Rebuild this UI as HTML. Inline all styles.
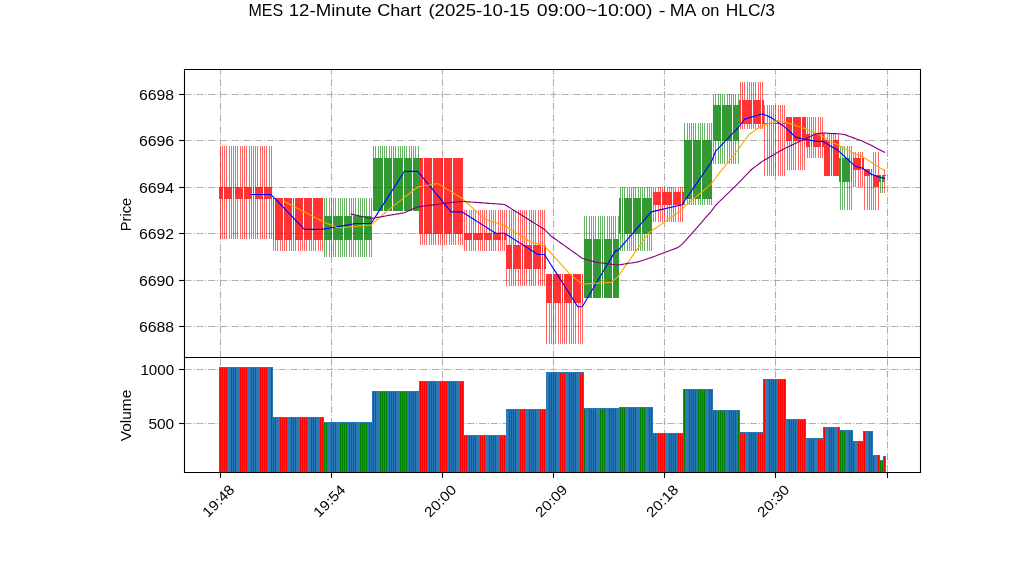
<!DOCTYPE html>
<html><head><meta charset="utf-8"><title>chart</title>
<style>html,body{margin:0;padding:0;background:#fff}body{width:1022px;height:575px;overflow:hidden;font-family:"Liberation Sans",sans-serif}</style></head>
<body>
<svg width="1022" height="575" viewBox="0 0 1022 575" style="display:block">
<rect width="1022" height="575" fill="#fff"/>
<g stroke="#b0b0b0" stroke-width="1.1" stroke-dasharray="7.11 1.78 1.11 1.78" fill="none">
<path d="M184.5 326.5H920.5"/>
<path d="M184.5 280.5H920.5"/>
<path d="M184.5 233.5H920.5"/>
<path d="M184.5 187.5H920.5"/>
<path d="M184.5 140.5H920.5"/>
<path d="M184.5 94.5H920.5"/>
<path d="M184.5 369.5H920.5"/>
<path d="M184.5 423.5H920.5"/>
<path d="M220.5 357.3V69.5"/>
<path d="M220.5 472.0V357.5"/>
<path d="M331.5 357.3V69.5"/>
<path d="M331.5 472.0V357.5"/>
<path d="M442.5 357.3V69.5"/>
<path d="M442.5 472.0V357.5"/>
<path d="M553.5 357.3V69.5"/>
<path d="M553.5 472.0V357.5"/>
<path d="M664.5 357.3V69.5"/>
<path d="M664.5 472.0V357.5"/>
<path d="M775.5 357.3V69.5"/>
<path d="M775.5 472.0V357.5"/>
<path d="M887.5 357.3V69.5"/>
<path d="M887.5 472.0V357.5"/>
</g>
<path d="M220 146h1V187h-1zM220 199h1V239h-1zM222 146h1V187h-1zM222 199h1V239h-1zM224 146h1V187h-1zM224 199h1V239h-1zM226 146h1V187h-1zM226 199h1V239h-1zM229 146h1V187h-1zM229 199h1V239h-1zM231 146h1V187h-1zM231 199h1V239h-1zM233 146h1V187h-1zM233 199h1V239h-1zM235 146h1V187h-1zM235 199h1V239h-1zM237 146h1V187h-1zM237 199h1V239h-1zM240 146h1V187h-1zM240 199h1V239h-1zM242 146h1V187h-1zM242 199h1V239h-1zM244 146h1V187h-1zM244 199h1V239h-1zM246 146h1V187h-1zM246 199h1V239h-1zM249 146h1V187h-1zM249 199h1V239h-1zM251 146h1V187h-1zM251 199h1V239h-1zM253 146h1V187h-1zM253 199h1V239h-1zM255 146h1V187h-1zM255 199h1V239h-1zM257 146h1V187h-1zM257 199h1V239h-1zM260 146h1V187h-1zM260 199h1V239h-1zM262 146h1V187h-1zM262 199h1V239h-1zM264 146h1V187h-1zM264 199h1V239h-1zM266 146h1V187h-1zM266 199h1V239h-1zM269 146h1V187h-1zM269 199h1V239h-1zM271 146h1V187h-1zM271 199h1V239h-1zM273 240h1V251h-1zM275 240h1V251h-1zM277 240h1V251h-1zM280 240h1V251h-1zM282 240h1V251h-1zM284 240h1V251h-1zM286 240h1V251h-1zM289 240h1V251h-1zM291 240h1V251h-1zM293 240h1V251h-1zM295 240h1V251h-1zM298 240h1V251h-1zM300 240h1V251h-1zM302 240h1V251h-1zM304 240h1V251h-1zM306 240h1V251h-1zM309 240h1V251h-1zM311 240h1V251h-1zM313 240h1V251h-1zM315 240h1V251h-1zM318 240h1V251h-1zM320 240h1V251h-1zM322 240h1V251h-1zM420 234h1V245h-1zM422 234h1V245h-1zM424 234h1V245h-1zM426 234h1V245h-1zM429 234h1V245h-1zM431 234h1V245h-1zM433 234h1V245h-1zM435 234h1V245h-1zM438 234h1V245h-1zM440 234h1V245h-1zM442 234h1V245h-1zM444 234h1V245h-1zM446 234h1V245h-1zM449 234h1V245h-1zM451 234h1V245h-1zM453 234h1V245h-1zM455 234h1V245h-1zM458 234h1V245h-1zM460 234h1V245h-1zM462 234h1V245h-1zM464 210h1V233h-1zM464 240h1V251h-1zM466 210h1V233h-1zM466 240h1V251h-1zM469 210h1V233h-1zM469 240h1V251h-1zM471 210h1V233h-1zM471 240h1V251h-1zM473 210h1V233h-1zM473 240h1V251h-1zM475 210h1V233h-1zM475 240h1V251h-1zM478 210h1V233h-1zM478 240h1V251h-1zM480 210h1V233h-1zM480 240h1V251h-1zM482 210h1V233h-1zM482 240h1V251h-1zM484 210h1V233h-1zM484 240h1V251h-1zM486 210h1V233h-1zM486 240h1V251h-1zM489 210h1V233h-1zM489 240h1V251h-1zM491 210h1V233h-1zM491 240h1V251h-1zM493 210h1V233h-1zM493 240h1V251h-1zM495 210h1V233h-1zM495 240h1V251h-1zM498 210h1V233h-1zM498 240h1V251h-1zM500 210h1V233h-1zM500 240h1V251h-1zM502 210h1V233h-1zM502 240h1V251h-1zM504 210h1V233h-1zM504 240h1V251h-1zM506 210h1V245h-1zM506 269h1V286h-1zM509 210h1V245h-1zM509 269h1V286h-1zM511 210h1V245h-1zM511 269h1V286h-1zM513 210h1V245h-1zM513 269h1V286h-1zM515 210h1V245h-1zM515 269h1V286h-1zM518 210h1V245h-1zM518 269h1V286h-1zM520 210h1V245h-1zM520 269h1V286h-1zM522 210h1V245h-1zM522 269h1V286h-1zM524 210h1V245h-1zM524 269h1V286h-1zM526 210h1V245h-1zM526 269h1V286h-1zM529 210h1V245h-1zM529 269h1V286h-1zM531 210h1V245h-1zM531 269h1V286h-1zM533 210h1V245h-1zM533 269h1V286h-1zM535 210h1V245h-1zM535 269h1V286h-1zM538 210h1V245h-1zM538 269h1V286h-1zM540 210h1V245h-1zM540 269h1V286h-1zM542 210h1V245h-1zM542 269h1V286h-1zM544 210h1V245h-1zM544 269h1V286h-1zM546 303h1V344h-1zM549 303h1V344h-1zM551 303h1V344h-1zM553 303h1V344h-1zM555 303h1V344h-1zM558 303h1V344h-1zM560 303h1V344h-1zM562 303h1V344h-1zM564 303h1V344h-1zM566 303h1V344h-1zM569 303h1V344h-1zM571 303h1V344h-1zM573 303h1V344h-1zM575 303h1V344h-1zM578 303h1V344h-1zM580 303h1V344h-1zM582 303h1V344h-1zM653 187h1V192h-1zM653 205h1V222h-1zM655 187h1V192h-1zM655 205h1V222h-1zM658 187h1V192h-1zM658 205h1V222h-1zM660 187h1V192h-1zM660 205h1V222h-1zM662 187h1V192h-1zM662 205h1V222h-1zM664 187h1V192h-1zM664 205h1V222h-1zM667 187h1V192h-1zM667 205h1V222h-1zM669 187h1V192h-1zM669 205h1V222h-1zM671 187h1V192h-1zM671 205h1V222h-1zM673 187h1V192h-1zM673 205h1V222h-1zM675 187h1V192h-1zM675 205h1V222h-1zM678 187h1V192h-1zM678 205h1V222h-1zM680 187h1V192h-1zM680 205h1V222h-1zM682 187h1V192h-1zM682 205h1V222h-1zM740 82h1V100h-1zM740 124h1V129h-1zM742 82h1V100h-1zM742 124h1V129h-1zM744 82h1V100h-1zM744 124h1V129h-1zM747 82h1V100h-1zM747 124h1V129h-1zM749 82h1V100h-1zM749 124h1V129h-1zM751 82h1V100h-1zM751 124h1V129h-1zM753 82h1V100h-1zM753 124h1V129h-1zM755 82h1V100h-1zM755 124h1V129h-1zM758 82h1V100h-1zM758 124h1V129h-1zM760 82h1V100h-1zM760 124h1V129h-1zM762 82h1V100h-1zM762 124h1V129h-1zM764 105h1V123h-1zM764 124h1V176h-1zM767 105h1V123h-1zM767 124h1V176h-1zM769 105h1V123h-1zM769 124h1V176h-1zM771 105h1V123h-1zM771 124h1V176h-1zM773 105h1V123h-1zM773 124h1V176h-1zM775 105h1V123h-1zM775 124h1V176h-1zM778 105h1V123h-1zM778 124h1V176h-1zM780 105h1V123h-1zM780 124h1V176h-1zM782 105h1V123h-1zM782 124h1V176h-1zM784 105h1V123h-1zM784 124h1V176h-1zM787 141h1V170h-1zM789 141h1V170h-1zM791 141h1V170h-1zM793 141h1V170h-1zM795 141h1V170h-1zM798 141h1V170h-1zM800 141h1V170h-1zM802 141h1V170h-1zM804 141h1V170h-1zM807 117h1V134h-1zM807 147h1V158h-1zM809 117h1V134h-1zM809 147h1V158h-1zM811 117h1V134h-1zM811 147h1V158h-1zM813 117h1V134h-1zM813 147h1V158h-1zM815 117h1V134h-1zM815 147h1V158h-1zM818 117h1V134h-1zM818 147h1V158h-1zM820 117h1V134h-1zM820 147h1V158h-1zM822 117h1V134h-1zM822 147h1V158h-1zM824 134h1V140h-1zM827 134h1V140h-1zM829 134h1V140h-1zM831 134h1V140h-1zM833 134h1V140h-1zM835 134h1V140h-1zM838 134h1V140h-1zM853 152h1V158h-1zM853 170h1V187h-1zM855 152h1V158h-1zM855 170h1V187h-1zM858 152h1V158h-1zM858 170h1V187h-1zM860 152h1V158h-1zM860 170h1V187h-1zM862 152h1V158h-1zM862 170h1V187h-1zM864 176h1V210h-1zM867 176h1V210h-1zM869 176h1V210h-1zM871 176h1V210h-1zM873 152h1V175h-1zM873 187h1V210h-1zM875 152h1V175h-1zM875 187h1V210h-1zM878 152h1V175h-1zM878 187h1V210h-1zM884 169h1V175h-1zM884 176h1V193h-1z" fill="rgba(255,0,0,0.6)"/>
<path d="M324 198h1V216h-1zM324 240h1V257h-1zM326 198h1V216h-1zM326 240h1V257h-1zM329 198h1V216h-1zM329 240h1V257h-1zM331 198h1V216h-1zM331 240h1V257h-1zM333 198h1V216h-1zM333 240h1V257h-1zM335 198h1V216h-1zM335 240h1V257h-1zM338 198h1V216h-1zM338 240h1V257h-1zM340 198h1V216h-1zM340 240h1V257h-1zM342 198h1V216h-1zM342 240h1V257h-1zM344 198h1V216h-1zM344 240h1V257h-1zM346 198h1V216h-1zM346 240h1V257h-1zM349 198h1V216h-1zM349 240h1V257h-1zM351 198h1V216h-1zM351 240h1V257h-1zM353 198h1V216h-1zM353 240h1V257h-1zM355 198h1V216h-1zM355 240h1V257h-1zM358 198h1V216h-1zM358 240h1V257h-1zM360 198h1V216h-1zM360 240h1V257h-1zM362 198h1V216h-1zM362 240h1V257h-1zM364 198h1V216h-1zM364 240h1V257h-1zM366 198h1V216h-1zM366 240h1V257h-1zM369 198h1V216h-1zM369 240h1V257h-1zM371 198h1V216h-1zM371 240h1V257h-1zM373 146h1V158h-1zM375 146h1V158h-1zM378 146h1V158h-1zM380 146h1V158h-1zM382 146h1V158h-1zM384 146h1V158h-1zM386 146h1V158h-1zM389 146h1V158h-1zM391 146h1V158h-1zM393 146h1V158h-1zM395 146h1V158h-1zM398 146h1V158h-1zM400 146h1V158h-1zM402 146h1V158h-1zM404 146h1V158h-1zM406 146h1V158h-1zM409 146h1V158h-1zM411 146h1V158h-1zM413 146h1V158h-1zM415 146h1V158h-1zM418 146h1V158h-1zM584 216h1V239h-1zM586 216h1V239h-1zM589 216h1V239h-1zM591 216h1V239h-1zM593 216h1V239h-1zM595 216h1V239h-1zM598 216h1V239h-1zM600 216h1V239h-1zM602 216h1V239h-1zM604 216h1V239h-1zM607 216h1V239h-1zM609 216h1V239h-1zM611 216h1V239h-1zM613 216h1V239h-1zM615 216h1V239h-1zM618 216h1V239h-1zM620 187h1V198h-1zM620 234h1V251h-1zM622 187h1V198h-1zM622 234h1V251h-1zM624 187h1V198h-1zM624 234h1V251h-1zM627 187h1V198h-1zM627 234h1V251h-1zM629 187h1V198h-1zM629 234h1V251h-1zM631 187h1V198h-1zM631 234h1V251h-1zM633 187h1V198h-1zM633 234h1V251h-1zM635 187h1V198h-1zM635 234h1V251h-1zM638 187h1V198h-1zM638 234h1V251h-1zM640 187h1V198h-1zM640 234h1V251h-1zM642 187h1V198h-1zM642 234h1V251h-1zM644 187h1V198h-1zM644 234h1V251h-1zM647 187h1V198h-1zM647 234h1V251h-1zM649 187h1V198h-1zM649 234h1V251h-1zM651 187h1V198h-1zM651 234h1V251h-1zM684 123h1V140h-1zM684 199h1V205h-1zM687 123h1V140h-1zM687 199h1V205h-1zM689 123h1V140h-1zM689 199h1V205h-1zM691 123h1V140h-1zM691 199h1V205h-1zM693 123h1V140h-1zM693 199h1V205h-1zM695 123h1V140h-1zM695 199h1V205h-1zM698 123h1V140h-1zM698 199h1V205h-1zM700 123h1V140h-1zM700 199h1V205h-1zM702 123h1V140h-1zM702 199h1V205h-1zM704 123h1V140h-1zM704 199h1V205h-1zM707 123h1V140h-1zM707 199h1V205h-1zM709 123h1V140h-1zM709 199h1V205h-1zM711 123h1V140h-1zM711 199h1V205h-1zM713 94h1V105h-1zM713 141h1V164h-1zM715 94h1V105h-1zM715 141h1V164h-1zM718 94h1V105h-1zM718 141h1V164h-1zM720 94h1V105h-1zM720 141h1V164h-1zM722 94h1V105h-1zM722 141h1V164h-1zM724 94h1V105h-1zM724 141h1V164h-1zM727 94h1V105h-1zM727 141h1V164h-1zM729 94h1V105h-1zM729 141h1V164h-1zM731 94h1V105h-1zM731 141h1V164h-1zM733 94h1V105h-1zM733 141h1V164h-1zM735 94h1V105h-1zM735 141h1V164h-1zM738 94h1V105h-1zM738 141h1V164h-1zM840 146h1V158h-1zM840 182h1V210h-1zM842 146h1V158h-1zM842 182h1V210h-1zM844 146h1V158h-1zM844 182h1V210h-1zM847 146h1V158h-1zM847 182h1V210h-1zM849 146h1V158h-1zM849 182h1V210h-1zM851 146h1V158h-1zM851 182h1V210h-1zM880 182h1V193h-1zM882 182h1V193h-1z" fill="rgba(0,128,0,0.6)"/>
<path d="M219 187H221V199H219zM221 187H223V199H221zM224 187H226V199H224zM226 187H228V199H226zM228 187H230V199H228zM230 187H232V199H230zM233 187H234V199H233zM235 187H237V199H235zM237 187H239V199H237zM239 187H241V199H239zM241 187H243V199H241zM244 187H246V199H244zM246 187H248V199H246zM248 187H250V199H248zM250 187H252V199H250zM253 187H254V199H253zM255 187H257V199H255zM257 187H259V199H257zM259 187H261V199H259zM261 187H263V199H261zM264 187H266V199H264zM266 187H268V199H266zM268 187H270V199H268zM270 187H272V199H270zM273 198H274V240H273zM275 198H277V240H275zM277 198H279V240H277zM279 198H281V240H279zM281 198H283V240H281zM284 198H286V240H284zM286 198H288V240H286zM288 198H290V240H288zM290 198H292V240H290zM293 198H294V240H293zM295 198H297V240H295zM297 198H299V240H297zM299 198H301V240H299zM301 198H303V240H301zM304 198H306V240H304zM306 198H308V240H306zM308 198H310V240H308zM310 198H312V240H310zM313 198H315V240H313zM315 198H317V240H315zM317 198H319V240H317zM319 198H321V240H319zM321 198H323V240H321zM419 158H421V234H419zM421 158H423V234H421zM424 158H426V234H424zM426 158H428V234H426zM428 158H430V234H428zM430 158H432V234H430zM433 158H435V234H433zM435 158H437V234H435zM437 158H439V234H437zM439 158H441V234H439zM441 158H443V234H441zM444 158H446V234H444zM446 158H448V234H446zM448 158H450V234H448zM450 158H452V234H450zM453 158H455V234H453zM455 158H457V234H455zM457 158H459V234H457zM459 158H461V234H459zM461 158H463V234H461zM464 233H466V240H464zM466 233H468V240H466zM468 233H470V240H468zM470 233H472V240H470zM473 233H475V240H473zM475 233H477V240H475zM477 233H479V240H477zM479 233H481V240H479zM481 233H483V240H481zM484 233H486V240H484zM486 233H488V240H486zM488 233H490V240H488zM490 233H492V240H490zM493 233H495V240H493zM495 233H497V240H495zM497 233H499V240H497zM499 233H501V240H499zM502 233H503V240H502zM504 233H506V240H504zM506 245H508V269H506zM508 245H510V269H508zM510 245H512V269H510zM513 245H515V269H513zM515 245H517V269H515zM517 245H519V269H517zM519 245H521V269H519zM522 245H523V269H522zM524 245H526V269H524zM526 245H528V269H526zM528 245H530V269H528zM530 245H532V269H530zM533 245H535V269H533zM535 245H537V269H535zM537 245H539V269H537zM539 245H541V269H539zM542 245H543V269H542zM544 245H546V269H544zM546 274H548V303H546zM548 274H550V303H548zM550 274H552V303H550zM553 274H555V303H553zM555 274H557V303H555zM557 274H559V303H557zM559 274H561V303H559zM562 274H563V303H562zM564 274H566V303H564zM566 274H568V303H566zM568 274H570V303H568zM570 274H572V303H570zM573 274H575V303H573zM575 274H577V303H575zM577 274H579V303H577zM579 274H581V303H579zM582 274H583V303H582zM653 192H655V205H653zM655 192H657V205H655zM657 192H659V205H657zM659 192H661V205H659zM662 192H664V205H662zM664 192H666V205H664zM666 192H668V205H666zM668 192H670V205H668zM670 192H672V205H670zM673 192H675V205H673zM675 192H677V205H675zM677 192H679V205H677zM679 192H681V205H679zM682 192H684V205H682zM739 100H741V124H739zM742 100H744V124H742zM744 100H746V124H744zM746 100H748V124H746zM748 100H750V124H748zM750 100H752V124H750zM753 100H755V124H753zM755 100H757V124H755zM757 100H759V124H757zM759 100H761V124H759zM762 100H764V124H762zM764 123H766V124H764zM766 123H768V124H766zM768 123H770V124H768zM770 123H772V124H770zM773 123H775V124H773zM775 123H777V124H775zM777 123H779V124H777zM779 123H781V124H779zM782 123H784V124H782zM784 123H786V124H784zM786 117H788V141H786zM788 117H790V141H788zM790 117H792V141H790zM793 117H795V141H793zM795 117H797V141H795zM797 117H799V141H797zM799 117H801V141H799zM802 117H804V141H802zM804 117H806V141H804zM806 134H808V147H806zM808 134H810V147H808zM811 134H812V147H811zM813 134H815V147H813zM815 134H817V147H815zM817 134H819V147H817zM819 134H821V147H819zM822 134H824V147H822zM824 140H826V176H824zM826 140H828V176H826zM828 140H830V176H828zM831 140H832V176H831zM833 140H835V176H833zM835 140H837V176H835zM837 140H839V176H837zM853 158H855V170H853zM855 158H857V170H855zM857 158H859V170H857zM859 158H861V170H859zM862 158H864V170H862zM864 169H866V176H864zM866 169H868V176H866zM868 169H870V176H868zM871 169H872V176H871zM873 175H875V187H873zM875 175H877V187H875zM877 175H879V187H877zM884 175H886V176H884z" fill="rgba(255,0,0,0.8)"/>
<path d="M324 216H326V240H324zM326 216H328V240H326zM328 216H330V240H328zM330 216H332V240H330zM333 216H335V240H333zM335 216H337V240H335zM337 216H339V240H337zM339 216H341V240H339zM341 216H343V240H341zM344 216H346V240H344zM346 216H348V240H346zM348 216H350V240H348zM350 216H352V240H350zM353 216H355V240H353zM355 216H357V240H355zM357 216H359V240H357zM359 216H361V240H359zM361 216H363V240H361zM364 216H366V240H364zM366 216H368V240H366zM368 216H370V240H368zM370 216H372V240H370zM373 158H375V211H373zM375 158H377V211H375zM377 158H379V211H377zM379 158H381V211H379zM381 158H383V211H381zM384 158H386V211H384zM386 158H388V211H386zM388 158H390V211H388zM390 158H392V211H390zM393 158H395V211H393zM395 158H397V211H395zM397 158H399V211H397zM399 158H401V211H399zM401 158H403V211H401zM404 158H406V211H404zM406 158H408V211H406zM408 158H410V211H408zM410 158H412V211H410zM413 158H415V211H413zM415 158H417V211H415zM417 158H419V211H417zM584 239H586V298H584zM586 239H588V298H586zM588 239H590V298H588zM590 239H592V298H590zM593 239H595V298H593zM595 239H597V298H595zM597 239H599V298H597zM599 239H601V298H599zM602 239H603V298H602zM604 239H606V298H604zM606 239H608V298H606zM608 239H610V298H608zM610 239H612V298H610zM613 239H615V298H613zM615 239H617V298H615zM617 239H619V298H617zM619 198H621V234H619zM622 198H623V234H622zM624 198H626V234H624zM626 198H628V234H626zM628 198H630V234H628zM630 198H632V234H630zM633 198H635V234H633zM635 198H637V234H635zM637 198H639V234H637zM639 198H641V234H639zM642 198H644V234H642zM644 198H646V234H644zM646 198H648V234H646zM648 198H650V234H648zM650 198H652V234H650zM684 140H686V199H684zM686 140H688V199H686zM688 140H690V199H688zM690 140H692V199H690zM693 140H695V199H693zM695 140H697V199H695zM697 140H699V199H697zM699 140H701V199H699zM702 140H704V199H702zM704 140H706V199H704zM706 140H708V199H706zM708 140H710V199H708zM710 140H712V199H710zM713 105H715V141H713zM715 105H717V141H715zM717 105H719V141H717zM719 105H721V141H719zM722 105H724V141H722zM724 105H726V141H724zM726 105H728V141H726zM728 105H730V141H728zM730 105H732V141H730zM733 105H735V141H733zM735 105H737V141H735zM737 105H739V141H737zM839 158H841V182H839zM842 158H844V182H842zM844 158H846V182H844zM846 158H848V182H846zM848 158H850V182H848zM851 158H852V182H851zM879 175H881V182H879zM882 175H884V182H882z" fill="rgba(0,128,0,0.8)"/>
<path d="" fill="rgba(255,0,0,0.25)"/>
<path d="M251.02 194.53L253.24 194.53L255.47 194.53L257.69 194.53L259.91 194.53L262.14 194.53L264.36 194.53L266.58 194.53L268.81 194.53L271.03 194.53L273.25 196.85L275.47 199.17L277.70 201.49L279.92 203.81L282.14 206.13L284.37 208.45L286.59 210.77L288.81 213.09L291.04 215.42L293.26 217.74L295.48 220.06L297.70 222.38L299.93 224.70L302.15 227.02L304.37 229.34L306.60 229.34L308.82 229.34L311.04 229.34L313.27 229.34L315.49 229.34L317.71 229.34L319.94 229.34L322.16 229.34L324.38 228.95L326.60 228.57L328.83 228.18L331.05 227.79L333.27 227.41L335.50 227.02L337.72 226.63L339.94 226.25L342.16 225.86L344.39 225.47L346.61 225.09L348.83 224.70L351.06 224.31L353.28 223.93L355.50 223.54L357.73 223.54L359.95 223.54L362.17 223.54L364.39 223.54L366.62 223.54L368.84 223.54L371.06 223.54L373.29 220.06L375.51 216.58L377.73 213.09L379.96 209.61L382.18 206.13L384.40 202.65L386.62 199.17L388.85 195.69L391.07 192.21L393.29 188.72L395.52 185.24L397.74 181.76L399.96 178.28L402.19 174.80L404.41 171.32L406.63 171.32L408.85 171.32L411.08 171.32L413.30 171.32L415.52 171.32L417.75 171.32L419.97 174.02L422.19 176.73L424.42 179.44L426.64 182.15L428.86 184.86L431.08 187.56L433.31 190.27L435.53 192.98L437.75 195.69L439.98 198.40L442.20 201.10L444.42 203.81L446.65 206.52L448.87 209.23L451.09 211.93L453.31 211.93L455.54 211.93L457.76 211.93L459.98 211.93L462.21 211.93L464.43 213.35L466.65 214.77L468.88 216.19L471.10 217.61L473.32 219.03L475.54 220.44L477.77 221.86L479.99 223.28L482.21 224.70L484.44 226.12L486.66 227.54L488.88 228.95L491.11 230.37L493.33 231.79L495.55 233.21L497.77 233.21L500.00 233.21L502.22 233.21L504.44 233.21L506.67 234.63L508.89 236.05L511.11 237.47L513.34 238.88L515.56 240.30L517.78 241.72L520.00 243.14L522.23 244.56L524.45 245.98L526.67 247.39L528.90 248.81L531.12 250.23L533.34 251.65L535.57 253.07L537.79 254.49L540.01 254.49L542.24 254.49L544.46 254.49L546.68 257.97L548.90 261.45L551.13 264.93L553.35 268.41L555.57 271.89L557.80 275.37L560.02 278.86L562.24 282.34L564.47 285.82L566.69 289.30L568.91 292.78L571.13 296.26L573.36 299.75L575.58 303.23L577.80 306.71L580.03 306.71L582.25 306.71L584.47 302.97L586.69 299.23L588.92 295.49L591.14 291.75L593.36 288.01L595.59 284.27L597.81 280.53L600.03 276.79L602.26 273.05L604.48 269.31L606.70 265.58L608.92 261.84L611.15 258.10L613.37 254.36L615.59 250.62L617.82 250.62L620.04 248.04L622.26 245.46L624.49 242.88L626.71 240.30L628.93 237.72L631.15 235.14L633.38 232.57L635.60 229.99L637.82 227.41L640.05 224.83L642.27 222.25L644.49 219.67L646.72 217.09L648.94 214.51L651.16 211.93L653.38 211.42L655.61 210.90L657.83 210.39L660.05 209.87L662.28 209.36L664.50 208.84L666.72 208.32L668.95 207.81L671.17 207.29L673.39 206.78L675.62 206.26L677.84 205.74L680.06 205.23L682.28 204.71L684.51 200.97L686.73 197.75L688.95 194.53L691.18 191.30L693.40 188.08L695.62 184.86L697.85 181.63L700.07 178.41L702.29 175.19L704.51 171.96L706.74 168.74L708.96 165.51L711.18 162.29L713.41 156.75L715.63 151.20L717.85 148.88L720.08 146.56L722.30 144.24L724.52 141.92L726.74 139.60L728.97 137.28L731.19 134.95L733.41 132.63L735.64 130.31L737.86 127.99L740.08 125.03L742.31 122.06L744.53 119.09L746.75 118.45L748.97 117.80L751.20 117.16L753.42 116.52L755.64 115.87L757.87 115.23L760.09 114.58L762.31 113.94L764.54 114.84L766.76 115.74L768.98 116.64L771.20 117.55L773.43 119.09L775.65 120.64L777.87 122.19L780.10 123.74L782.32 125.28L784.54 126.83L786.77 128.89L788.99 130.96L791.21 133.02L793.43 135.08L795.66 137.15L797.88 137.66L800.10 138.18L802.33 138.69L804.55 139.21L806.77 139.60L808.99 139.98L811.22 140.37L813.44 140.76L815.66 141.14L817.89 141.53L820.11 141.40L822.33 141.27L824.56 142.56L826.78 143.85L829.00 145.14L831.22 146.43L833.45 147.72L835.67 149.01L837.89 150.30L840.12 152.36L842.34 154.42L844.56 156.49L846.79 158.55L849.01 160.61L851.23 162.68L853.45 164.61L855.68 166.55L857.90 167.06L860.12 167.58L862.35 168.09L864.57 169.64L866.79 171.19L869.02 172.74L871.24 174.28L873.46 175.06L875.68 175.83L877.91 176.60L880.13 177.25L882.35 177.89L884.58 178.41" fill="none" stroke="#0000ff" stroke-width="1.12" stroke-linejoin="round" stroke-linecap="square"/>
<path d="M284.37 201.49L286.59 202.65L288.81 203.81L291.04 204.97L293.26 206.13L295.48 207.29L297.70 208.45L299.93 209.61L302.15 210.77L304.37 211.93L306.60 213.09L308.82 214.26L311.04 215.42L313.27 216.58L315.49 217.74L317.71 218.90L319.94 220.06L322.16 221.22L324.38 222.19L326.60 223.15L328.83 224.12L331.05 225.09L333.27 226.05L335.50 227.02L337.72 227.99L339.94 227.79L342.16 227.60L344.39 227.41L346.61 227.21L348.83 227.02L351.06 226.83L353.28 226.63L355.50 226.44L357.73 226.25L359.95 226.05L362.17 225.86L364.39 225.67L366.62 225.47L368.84 225.28L371.06 225.09L373.29 223.15L375.51 221.22L377.73 219.28L379.96 217.35L382.18 215.42L384.40 213.48L386.62 211.55L388.85 209.61L391.07 207.87L393.29 206.13L395.52 204.39L397.74 202.65L399.96 200.91L402.19 199.17L404.41 197.43L406.63 195.69L408.85 193.95L411.08 192.21L413.30 190.46L415.52 188.72L417.75 186.98L419.97 186.60L422.19 186.21L424.42 185.82L426.64 185.44L428.86 185.05L431.08 184.66L433.31 184.28L435.53 183.89L437.75 183.50L439.98 184.86L442.20 186.21L444.42 187.56L446.65 188.92L448.87 190.27L451.09 191.63L453.31 192.98L455.54 194.33L457.76 195.69L459.98 197.04L462.21 198.40L464.43 200.46L466.65 202.52L468.88 204.58L471.10 206.65L473.32 208.71L475.54 210.77L477.77 212.84L479.99 214.90L482.21 216.96L484.44 219.03L486.66 219.74L488.88 220.44L491.11 221.15L493.33 221.86L495.55 222.57L497.77 223.28L500.00 223.99L502.22 224.70L504.44 225.41L506.67 226.83L508.89 228.25L511.11 229.66L513.34 231.08L515.56 232.50L517.78 233.92L520.00 235.34L522.23 236.76L524.45 238.17L526.67 239.59L528.90 241.01L531.12 241.72L533.34 242.43L535.57 243.14L537.79 243.85L540.01 244.56L542.24 245.27L544.46 245.98L546.68 248.43L548.90 250.88L551.13 253.33L553.35 255.78L555.57 258.23L557.80 260.68L560.02 263.13L562.24 265.58L564.47 268.03L566.69 270.47L568.91 272.92L571.13 275.37L573.36 277.12L575.58 278.86L577.80 280.60L580.03 282.34L582.25 284.08L584.47 283.95L586.69 283.82L588.92 283.69L591.14 283.56L593.36 283.43L595.59 283.30L597.81 283.18L600.03 283.05L602.26 282.92L604.48 282.79L606.70 282.66L608.92 282.53L611.15 282.40L613.37 280.53L615.59 278.66L617.82 276.79L620.04 273.63L622.26 270.47L624.49 267.32L626.71 264.16L628.93 261.00L631.15 257.84L633.38 254.68L635.60 251.52L637.82 248.36L640.05 245.20L642.27 242.04L644.49 238.88L646.72 235.72L648.94 232.57L651.16 231.28L653.38 229.73L655.61 228.18L657.83 226.63L660.05 225.09L662.28 223.54L664.50 221.99L666.72 220.44L668.95 218.90L671.17 217.35L673.39 215.80L675.62 214.26L677.84 212.71L680.06 211.16L682.28 209.61L684.51 206.45L686.73 204.58L688.95 202.71L691.18 200.84L693.40 198.98L695.62 197.11L697.85 195.24L700.07 193.37L702.29 191.50L704.51 189.63L706.74 187.76L708.96 185.89L711.18 184.02L713.41 180.99L715.63 177.96L717.85 174.93L720.08 172.15L722.30 169.38L724.52 166.61L726.74 163.84L728.97 161.07L731.19 158.29L733.41 155.52L735.64 152.75L737.86 149.98L740.08 146.88L742.31 143.79L744.53 140.69L746.75 137.60L748.97 134.50L751.20 133.02L753.42 131.54L755.64 130.05L757.87 128.57L760.09 127.09L762.31 125.61L764.54 124.90L766.76 124.19L768.98 123.48L771.20 122.77L773.43 122.06L775.65 121.35L777.87 120.64L780.10 121.09L782.32 121.54L784.54 122.00L786.77 122.70L788.99 123.41L791.21 124.12L793.43 124.83L795.66 125.54L797.88 126.25L800.10 126.96L802.33 127.67L804.55 128.38L806.77 129.35L808.99 130.31L811.22 131.28L813.44 132.25L815.66 133.21L817.89 134.18L820.11 135.15L822.33 136.11L824.56 137.79L826.78 139.47L829.00 141.14L831.22 142.05L833.45 142.95L835.67 143.85L837.89 144.75L840.12 145.98L842.34 147.20L844.56 148.43L846.79 149.65L849.01 150.88L851.23 152.10L853.45 153.01L855.68 153.91L857.90 154.81L860.12 155.71L862.35 156.62L864.57 158.04L866.79 159.45L869.02 160.87L871.24 162.29L873.46 163.71L875.68 165.13L877.91 166.55L880.13 167.90L882.35 169.25L884.58 170.54" fill="none" stroke="#ffa500" stroke-width="1.12" stroke-linejoin="round" stroke-linecap="square"/>
<path d="M351.06 214.16L353.28 214.64L355.50 215.13L357.73 215.61L359.95 216.09L362.17 216.58L364.39 217.06L366.62 217.54L368.84 218.03L371.06 218.51L373.29 218.12L375.51 217.74L377.73 217.35L379.96 216.96L382.18 216.58L384.40 216.19L386.62 215.80L388.85 215.42L391.07 215.03L393.29 214.64L395.52 214.26L397.74 213.87L399.96 213.48L402.19 213.09L404.41 212.71L406.63 211.74L408.85 210.77L411.08 209.81L413.30 208.84L415.52 207.87L417.75 206.91L419.97 206.62L422.19 206.33L424.42 206.03L426.64 205.74L428.86 205.45L431.08 205.16L433.31 204.87L435.53 204.58L437.75 204.29L439.98 204.00L442.20 203.71L444.42 203.42L446.65 203.13L448.87 202.84L451.09 202.55L453.31 202.26L455.54 201.97L457.76 201.78L459.98 201.59L462.21 201.39L464.43 201.55L466.65 201.72L468.88 201.88L471.10 202.04L473.32 202.20L475.54 202.36L477.77 202.52L479.99 202.68L482.21 202.84L484.44 203.00L486.66 203.17L488.88 203.33L491.11 203.49L493.33 203.65L495.55 203.81L497.77 203.97L500.00 204.13L502.22 204.29L504.44 204.46L506.67 205.84L508.89 207.23L511.11 208.61L513.34 210.00L515.56 211.39L517.78 212.77L520.00 214.16L522.23 215.54L524.45 216.93L526.67 218.32L528.90 219.70L531.12 221.09L533.34 222.48L535.57 223.86L537.79 225.25L540.01 226.63L542.24 228.02L544.46 229.41L546.68 231.66L548.90 233.92L551.13 236.18L553.35 237.76L555.57 239.33L557.80 240.91L560.02 242.49L562.24 244.07L564.47 245.65L566.69 247.23L568.91 248.81L571.13 250.39L573.36 251.97L575.58 253.55L577.80 255.13L580.03 256.71L582.25 258.29L584.47 258.93L586.69 259.58L588.92 260.22L591.14 260.87L593.36 261.51L595.59 262.16L597.81 262.45L600.03 262.74L602.26 263.03L604.48 263.32L606.70 263.61L608.92 263.90L611.15 264.19L613.37 264.48L615.59 264.77L617.82 265.06L620.04 264.70L622.26 264.35L624.49 264.00L626.71 263.64L628.93 263.29L631.15 262.93L633.38 262.58L635.60 262.22L637.82 261.87L640.05 261.16L642.27 260.45L644.49 259.74L646.72 259.03L648.94 258.32L651.16 257.61L653.38 256.77L655.61 255.94L657.83 255.10L660.05 254.26L662.28 253.42L664.50 252.58L666.72 251.75L668.95 250.91L671.17 250.07L673.39 249.23L675.62 248.39L677.84 247.56L680.06 245.85L682.28 244.14L684.51 241.62L686.73 239.11L688.95 236.59L691.18 234.08L693.40 231.57L695.62 229.05L697.85 226.54L700.07 224.02L702.29 221.51L704.51 218.99L706.74 216.48L708.96 213.97L711.18 211.45L713.41 208.36L715.63 205.26L717.85 203.10L720.08 200.94L722.30 198.78L724.52 196.62L726.74 194.46L728.97 192.30L731.19 190.14L733.41 187.98L735.64 185.82L737.86 183.66L740.08 181.34L742.31 179.02L744.53 176.70L746.75 174.38L748.97 172.06L751.20 169.74L753.42 168.06L755.64 166.38L757.87 164.71L760.09 163.03L762.31 161.36L764.54 160.07L766.76 158.78L768.98 157.49L771.20 156.20L773.43 154.91L775.65 153.62L777.87 152.33L780.10 151.04L782.32 149.75L784.54 148.46L786.77 147.43L788.99 146.40L791.21 145.37L793.43 144.34L795.66 143.30L797.88 142.27L800.10 141.24L802.33 140.21L804.55 139.18L806.77 138.11L808.99 137.05L811.22 135.99L813.44 134.92L815.66 133.86L817.89 133.60L820.11 133.34L822.33 133.08L824.56 133.18L826.78 133.28L829.00 133.37L831.22 133.47L833.45 133.57L835.67 133.66L837.89 133.76L840.12 134.02L842.34 134.28L844.56 134.54L846.79 135.37L849.01 136.21L851.23 137.05L853.45 137.86L855.68 138.66L857.90 139.47L860.12 140.27L862.35 141.08L864.57 142.14L866.79 143.21L869.02 144.27L871.24 145.33L873.46 146.53L875.68 147.72L877.91 148.91L880.13 150.07L882.35 151.23L884.58 152.36" fill="none" stroke="#800080" stroke-width="1.12" stroke-linejoin="round" stroke-linecap="square"/>
<rect x="219" y="367" width="3" height="105" fill="#2878b6"/>
<rect x="220" y="368" width="1" height="104" fill="#ff0000"/>
<rect x="221" y="367" width="3" height="105" fill="#2878b6"/>
<rect x="222" y="368" width="1" height="104" fill="#ff0000"/>
<rect x="223" y="367" width="3" height="105" fill="#2878b6"/>
<rect x="224" y="368" width="1" height="104" fill="#ff0000"/>
<rect x="225" y="367" width="3" height="105" fill="#2878b6"/>
<rect x="226" y="368" width="1" height="104" fill="#ff0000"/>
<rect x="228" y="367" width="2" height="105" fill="#2878b6"/>
<rect x="228" y="368" width="2" height="104" fill="#3678b2"/>
<rect x="230" y="367" width="3" height="105" fill="#2878b6"/>
<rect x="231" y="368" width="1" height="104" fill="#ff0000"/>
<rect x="232" y="367" width="3" height="105" fill="#2878b6"/>
<rect x="233" y="368" width="1" height="104" fill="#ff0000"/>
<rect x="234" y="367" width="3" height="105" fill="#2878b6"/>
<rect x="235" y="368" width="1" height="104" fill="#ff0000"/>
<rect x="237" y="367" width="2" height="105" fill="#2878b6"/>
<rect x="237" y="368" width="2" height="104" fill="#3678b2"/>
<rect x="239" y="367" width="3" height="105" fill="#2878b6"/>
<rect x="240" y="368" width="1" height="104" fill="#ff0000"/>
<rect x="241" y="367" width="3" height="105" fill="#2878b6"/>
<rect x="242" y="368" width="1" height="104" fill="#ff0000"/>
<rect x="243" y="367" width="3" height="105" fill="#2878b6"/>
<rect x="244" y="368" width="1" height="104" fill="#ff0000"/>
<rect x="245" y="367" width="3" height="105" fill="#2878b6"/>
<rect x="246" y="368" width="1" height="104" fill="#ff0000"/>
<rect x="248" y="367" width="2" height="105" fill="#2878b6"/>
<rect x="248" y="368" width="2" height="104" fill="#3678b2"/>
<rect x="250" y="367" width="3" height="105" fill="#2878b6"/>
<rect x="251" y="368" width="1" height="104" fill="#ff0000"/>
<rect x="252" y="367" width="3" height="105" fill="#2878b6"/>
<rect x="253" y="368" width="1" height="104" fill="#ff0000"/>
<rect x="254" y="367" width="3" height="105" fill="#2878b6"/>
<rect x="255" y="368" width="1" height="104" fill="#ff0000"/>
<rect x="257" y="367" width="2" height="105" fill="#2878b6"/>
<rect x="257" y="368" width="2" height="104" fill="#3678b2"/>
<rect x="259" y="367" width="3" height="105" fill="#2878b6"/>
<rect x="260" y="368" width="1" height="104" fill="#ff0000"/>
<rect x="261" y="367" width="3" height="105" fill="#2878b6"/>
<rect x="262" y="368" width="1" height="104" fill="#ff0000"/>
<rect x="263" y="367" width="3" height="105" fill="#2878b6"/>
<rect x="264" y="368" width="1" height="104" fill="#ff0000"/>
<rect x="265" y="367" width="3" height="105" fill="#2878b6"/>
<rect x="266" y="368" width="1" height="104" fill="#ff0000"/>
<rect x="268" y="367" width="2" height="105" fill="#2878b6"/>
<rect x="268" y="368" width="2" height="104" fill="#3678b2"/>
<rect x="270" y="367" width="3" height="105" fill="#2878b6"/>
<rect x="271" y="368" width="1" height="104" fill="#ff0000"/>
<rect x="272" y="417" width="3" height="55" fill="#2878b6"/>
<rect x="273" y="418" width="1" height="54" fill="#ff0000"/>
<rect x="274" y="417" width="3" height="55" fill="#2878b6"/>
<rect x="275" y="418" width="1" height="54" fill="#ff0000"/>
<rect x="277" y="417" width="2" height="55" fill="#2878b6"/>
<rect x="277" y="418" width="2" height="54" fill="#3678b2"/>
<rect x="279" y="417" width="3" height="55" fill="#2878b6"/>
<rect x="280" y="418" width="1" height="54" fill="#ff0000"/>
<rect x="281" y="417" width="3" height="55" fill="#2878b6"/>
<rect x="282" y="418" width="1" height="54" fill="#ff0000"/>
<rect x="283" y="417" width="3" height="55" fill="#2878b6"/>
<rect x="284" y="418" width="1" height="54" fill="#ff0000"/>
<rect x="285" y="417" width="3" height="55" fill="#2878b6"/>
<rect x="286" y="418" width="1" height="54" fill="#ff0000"/>
<rect x="288" y="417" width="2" height="55" fill="#2878b6"/>
<rect x="288" y="418" width="2" height="54" fill="#3678b2"/>
<rect x="290" y="417" width="3" height="55" fill="#2878b6"/>
<rect x="291" y="418" width="1" height="54" fill="#ff0000"/>
<rect x="292" y="417" width="3" height="55" fill="#2878b6"/>
<rect x="293" y="418" width="1" height="54" fill="#ff0000"/>
<rect x="294" y="417" width="3" height="55" fill="#2878b6"/>
<rect x="295" y="418" width="1" height="54" fill="#ff0000"/>
<rect x="297" y="417" width="2" height="55" fill="#2878b6"/>
<rect x="297" y="418" width="2" height="54" fill="#3678b2"/>
<rect x="299" y="417" width="3" height="55" fill="#2878b6"/>
<rect x="300" y="418" width="1" height="54" fill="#ff0000"/>
<rect x="301" y="417" width="3" height="55" fill="#2878b6"/>
<rect x="302" y="418" width="1" height="54" fill="#ff0000"/>
<rect x="303" y="417" width="3" height="55" fill="#2878b6"/>
<rect x="304" y="418" width="1" height="54" fill="#ff0000"/>
<rect x="305" y="417" width="3" height="55" fill="#2878b6"/>
<rect x="306" y="418" width="1" height="54" fill="#ff0000"/>
<rect x="308" y="417" width="2" height="55" fill="#2878b6"/>
<rect x="308" y="418" width="2" height="54" fill="#3678b2"/>
<rect x="310" y="417" width="3" height="55" fill="#2878b6"/>
<rect x="311" y="418" width="1" height="54" fill="#ff0000"/>
<rect x="312" y="417" width="3" height="55" fill="#2878b6"/>
<rect x="313" y="418" width="1" height="54" fill="#ff0000"/>
<rect x="314" y="417" width="3" height="55" fill="#2878b6"/>
<rect x="315" y="418" width="1" height="54" fill="#ff0000"/>
<rect x="317" y="417" width="2" height="55" fill="#2878b6"/>
<rect x="317" y="418" width="2" height="54" fill="#3678b2"/>
<rect x="319" y="417" width="3" height="55" fill="#2878b6"/>
<rect x="320" y="418" width="1" height="54" fill="#ff0000"/>
<rect x="321" y="417" width="3" height="55" fill="#2878b6"/>
<rect x="322" y="418" width="1" height="54" fill="#ff0000"/>
<rect x="323" y="422" width="3" height="50" fill="#2878b6"/>
<rect x="324" y="423" width="1" height="49" fill="#008000"/>
<rect x="325" y="422" width="3" height="50" fill="#2878b6"/>
<rect x="326" y="423" width="1" height="49" fill="#008000"/>
<rect x="328" y="422" width="2" height="50" fill="#2878b6"/>
<rect x="328" y="423" width="2" height="49" fill="#3678b2"/>
<rect x="330" y="422" width="3" height="50" fill="#2878b6"/>
<rect x="331" y="423" width="1" height="49" fill="#008000"/>
<rect x="332" y="422" width="3" height="50" fill="#2878b6"/>
<rect x="333" y="423" width="1" height="49" fill="#008000"/>
<rect x="334" y="422" width="3" height="50" fill="#2878b6"/>
<rect x="335" y="423" width="1" height="49" fill="#008000"/>
<rect x="337" y="422" width="2" height="50" fill="#2878b6"/>
<rect x="337" y="423" width="2" height="49" fill="#3678b2"/>
<rect x="339" y="422" width="3" height="50" fill="#2878b6"/>
<rect x="340" y="423" width="1" height="49" fill="#008000"/>
<rect x="341" y="422" width="3" height="50" fill="#2878b6"/>
<rect x="342" y="423" width="1" height="49" fill="#008000"/>
<rect x="343" y="422" width="3" height="50" fill="#2878b6"/>
<rect x="344" y="423" width="1" height="49" fill="#008000"/>
<rect x="345" y="422" width="3" height="50" fill="#2878b6"/>
<rect x="346" y="423" width="1" height="49" fill="#008000"/>
<rect x="348" y="422" width="3" height="50" fill="#2878b6"/>
<rect x="349" y="423" width="1" height="49" fill="#008000"/>
<rect x="350" y="422" width="3" height="50" fill="#2878b6"/>
<rect x="351" y="423" width="1" height="49" fill="#008000"/>
<rect x="352" y="422" width="3" height="50" fill="#2878b6"/>
<rect x="353" y="423" width="1" height="49" fill="#008000"/>
<rect x="354" y="422" width="3" height="50" fill="#2878b6"/>
<rect x="355" y="423" width="1" height="49" fill="#008000"/>
<rect x="357" y="422" width="2" height="50" fill="#2878b6"/>
<rect x="357" y="423" width="2" height="49" fill="#3678b2"/>
<rect x="359" y="422" width="3" height="50" fill="#2878b6"/>
<rect x="360" y="423" width="1" height="49" fill="#008000"/>
<rect x="361" y="422" width="3" height="50" fill="#2878b6"/>
<rect x="362" y="423" width="1" height="49" fill="#008000"/>
<rect x="363" y="422" width="3" height="50" fill="#2878b6"/>
<rect x="364" y="423" width="1" height="49" fill="#008000"/>
<rect x="365" y="422" width="3" height="50" fill="#2878b6"/>
<rect x="366" y="423" width="1" height="49" fill="#008000"/>
<rect x="368" y="422" width="3" height="50" fill="#2878b6"/>
<rect x="369" y="423" width="1" height="49" fill="#008000"/>
<rect x="370" y="422" width="3" height="50" fill="#2878b6"/>
<rect x="371" y="423" width="1" height="49" fill="#008000"/>
<rect x="372" y="391" width="3" height="81" fill="#2878b6"/>
<rect x="373" y="392" width="1" height="80" fill="#008000"/>
<rect x="374" y="391" width="3" height="81" fill="#2878b6"/>
<rect x="375" y="392" width="1" height="80" fill="#008000"/>
<rect x="377" y="391" width="2" height="81" fill="#2878b6"/>
<rect x="377" y="392" width="2" height="80" fill="#3678b2"/>
<rect x="379" y="391" width="3" height="81" fill="#2878b6"/>
<rect x="380" y="392" width="1" height="80" fill="#008000"/>
<rect x="381" y="391" width="3" height="81" fill="#2878b6"/>
<rect x="382" y="392" width="1" height="80" fill="#008000"/>
<rect x="383" y="391" width="3" height="81" fill="#2878b6"/>
<rect x="384" y="392" width="1" height="80" fill="#008000"/>
<rect x="385" y="391" width="3" height="81" fill="#2878b6"/>
<rect x="386" y="392" width="1" height="80" fill="#008000"/>
<rect x="388" y="391" width="3" height="81" fill="#2878b6"/>
<rect x="389" y="392" width="1" height="80" fill="#008000"/>
<rect x="390" y="391" width="3" height="81" fill="#2878b6"/>
<rect x="391" y="392" width="1" height="80" fill="#008000"/>
<rect x="392" y="391" width="3" height="81" fill="#2878b6"/>
<rect x="393" y="392" width="1" height="80" fill="#008000"/>
<rect x="394" y="391" width="3" height="81" fill="#2878b6"/>
<rect x="395" y="392" width="1" height="80" fill="#008000"/>
<rect x="397" y="391" width="2" height="81" fill="#2878b6"/>
<rect x="397" y="392" width="2" height="80" fill="#3678b2"/>
<rect x="399" y="391" width="3" height="81" fill="#2878b6"/>
<rect x="400" y="392" width="1" height="80" fill="#008000"/>
<rect x="401" y="391" width="3" height="81" fill="#2878b6"/>
<rect x="402" y="392" width="1" height="80" fill="#008000"/>
<rect x="403" y="391" width="3" height="81" fill="#2878b6"/>
<rect x="404" y="392" width="1" height="80" fill="#008000"/>
<rect x="405" y="391" width="3" height="81" fill="#2878b6"/>
<rect x="406" y="392" width="1" height="80" fill="#008000"/>
<rect x="408" y="391" width="3" height="81" fill="#2878b6"/>
<rect x="409" y="392" width="1" height="80" fill="#008000"/>
<rect x="410" y="391" width="3" height="81" fill="#2878b6"/>
<rect x="411" y="392" width="1" height="80" fill="#008000"/>
<rect x="412" y="391" width="3" height="81" fill="#2878b6"/>
<rect x="413" y="392" width="1" height="80" fill="#008000"/>
<rect x="414" y="391" width="3" height="81" fill="#2878b6"/>
<rect x="415" y="392" width="1" height="80" fill="#008000"/>
<rect x="417" y="391" width="2" height="81" fill="#2878b6"/>
<rect x="417" y="392" width="2" height="80" fill="#3678b2"/>
<rect x="419" y="381" width="3" height="91" fill="#2878b6"/>
<rect x="420" y="382" width="1" height="90" fill="#ff0000"/>
<rect x="421" y="381" width="3" height="91" fill="#2878b6"/>
<rect x="422" y="382" width="1" height="90" fill="#ff0000"/>
<rect x="423" y="381" width="3" height="91" fill="#2878b6"/>
<rect x="424" y="382" width="1" height="90" fill="#ff0000"/>
<rect x="425" y="381" width="3" height="91" fill="#2878b6"/>
<rect x="426" y="382" width="1" height="90" fill="#ff0000"/>
<rect x="428" y="381" width="3" height="91" fill="#2878b6"/>
<rect x="429" y="382" width="1" height="90" fill="#ff0000"/>
<rect x="430" y="381" width="3" height="91" fill="#2878b6"/>
<rect x="431" y="382" width="1" height="90" fill="#ff0000"/>
<rect x="432" y="381" width="3" height="91" fill="#2878b6"/>
<rect x="433" y="382" width="1" height="90" fill="#ff0000"/>
<rect x="434" y="381" width="3" height="91" fill="#2878b6"/>
<rect x="435" y="382" width="1" height="90" fill="#ff0000"/>
<rect x="437" y="381" width="2" height="91" fill="#2878b6"/>
<rect x="437" y="382" width="2" height="90" fill="#3678b2"/>
<rect x="439" y="381" width="3" height="91" fill="#2878b6"/>
<rect x="440" y="382" width="1" height="90" fill="#ff0000"/>
<rect x="441" y="381" width="3" height="91" fill="#2878b6"/>
<rect x="442" y="382" width="1" height="90" fill="#ff0000"/>
<rect x="443" y="381" width="3" height="91" fill="#2878b6"/>
<rect x="444" y="382" width="1" height="90" fill="#ff0000"/>
<rect x="445" y="381" width="3" height="91" fill="#2878b6"/>
<rect x="446" y="382" width="1" height="90" fill="#ff0000"/>
<rect x="448" y="381" width="3" height="91" fill="#2878b6"/>
<rect x="449" y="382" width="1" height="90" fill="#ff0000"/>
<rect x="450" y="381" width="3" height="91" fill="#2878b6"/>
<rect x="451" y="382" width="1" height="90" fill="#ff0000"/>
<rect x="452" y="381" width="3" height="91" fill="#2878b6"/>
<rect x="453" y="382" width="1" height="90" fill="#ff0000"/>
<rect x="454" y="381" width="3" height="91" fill="#2878b6"/>
<rect x="455" y="382" width="1" height="90" fill="#ff0000"/>
<rect x="457" y="381" width="2" height="91" fill="#2878b6"/>
<rect x="457" y="382" width="2" height="90" fill="#3678b2"/>
<rect x="459" y="381" width="3" height="91" fill="#2878b6"/>
<rect x="460" y="382" width="1" height="90" fill="#ff0000"/>
<rect x="461" y="381" width="3" height="91" fill="#2878b6"/>
<rect x="462" y="382" width="1" height="90" fill="#ff0000"/>
<rect x="463" y="435" width="3" height="37" fill="#2878b6"/>
<rect x="464" y="436" width="1" height="36" fill="#ff0000"/>
<rect x="465" y="435" width="3" height="37" fill="#2878b6"/>
<rect x="466" y="436" width="1" height="36" fill="#ff0000"/>
<rect x="468" y="435" width="3" height="37" fill="#2878b6"/>
<rect x="469" y="436" width="1" height="36" fill="#ff0000"/>
<rect x="470" y="435" width="3" height="37" fill="#2878b6"/>
<rect x="471" y="436" width="1" height="36" fill="#ff0000"/>
<rect x="472" y="435" width="3" height="37" fill="#2878b6"/>
<rect x="473" y="436" width="1" height="36" fill="#ff0000"/>
<rect x="474" y="435" width="3" height="37" fill="#2878b6"/>
<rect x="475" y="436" width="1" height="36" fill="#ff0000"/>
<rect x="477" y="435" width="2" height="37" fill="#2878b6"/>
<rect x="477" y="436" width="2" height="36" fill="#3678b2"/>
<rect x="479" y="435" width="3" height="37" fill="#2878b6"/>
<rect x="480" y="436" width="1" height="36" fill="#ff0000"/>
<rect x="481" y="435" width="3" height="37" fill="#2878b6"/>
<rect x="482" y="436" width="1" height="36" fill="#ff0000"/>
<rect x="483" y="435" width="3" height="37" fill="#2878b6"/>
<rect x="484" y="436" width="1" height="36" fill="#ff0000"/>
<rect x="486" y="435" width="2" height="37" fill="#2878b6"/>
<rect x="486" y="436" width="2" height="36" fill="#3678b2"/>
<rect x="488" y="435" width="3" height="37" fill="#2878b6"/>
<rect x="489" y="436" width="1" height="36" fill="#ff0000"/>
<rect x="490" y="435" width="3" height="37" fill="#2878b6"/>
<rect x="491" y="436" width="1" height="36" fill="#ff0000"/>
<rect x="492" y="435" width="3" height="37" fill="#2878b6"/>
<rect x="493" y="436" width="1" height="36" fill="#ff0000"/>
<rect x="494" y="435" width="3" height="37" fill="#2878b6"/>
<rect x="495" y="436" width="1" height="36" fill="#ff0000"/>
<rect x="497" y="435" width="2" height="37" fill="#2878b6"/>
<rect x="497" y="436" width="2" height="36" fill="#3678b2"/>
<rect x="499" y="435" width="3" height="37" fill="#2878b6"/>
<rect x="500" y="436" width="1" height="36" fill="#ff0000"/>
<rect x="501" y="435" width="3" height="37" fill="#2878b6"/>
<rect x="502" y="436" width="1" height="36" fill="#ff0000"/>
<rect x="503" y="435" width="3" height="37" fill="#2878b6"/>
<rect x="504" y="436" width="1" height="36" fill="#ff0000"/>
<rect x="506" y="409" width="2" height="63" fill="#2878b6"/>
<rect x="506" y="410" width="2" height="62" fill="#3678b2"/>
<rect x="508" y="409" width="3" height="63" fill="#2878b6"/>
<rect x="509" y="410" width="1" height="62" fill="#ff0000"/>
<rect x="510" y="409" width="3" height="63" fill="#2878b6"/>
<rect x="511" y="410" width="1" height="62" fill="#ff0000"/>
<rect x="512" y="409" width="3" height="63" fill="#2878b6"/>
<rect x="513" y="410" width="1" height="62" fill="#ff0000"/>
<rect x="514" y="409" width="3" height="63" fill="#2878b6"/>
<rect x="515" y="410" width="1" height="62" fill="#ff0000"/>
<rect x="517" y="409" width="2" height="63" fill="#2878b6"/>
<rect x="517" y="410" width="2" height="62" fill="#3678b2"/>
<rect x="519" y="409" width="3" height="63" fill="#2878b6"/>
<rect x="520" y="410" width="1" height="62" fill="#ff0000"/>
<rect x="521" y="409" width="3" height="63" fill="#2878b6"/>
<rect x="522" y="410" width="1" height="62" fill="#ff0000"/>
<rect x="523" y="409" width="3" height="63" fill="#2878b6"/>
<rect x="524" y="410" width="1" height="62" fill="#ff0000"/>
<rect x="526" y="409" width="2" height="63" fill="#2878b6"/>
<rect x="526" y="410" width="2" height="62" fill="#3678b2"/>
<rect x="528" y="409" width="3" height="63" fill="#2878b6"/>
<rect x="529" y="410" width="1" height="62" fill="#ff0000"/>
<rect x="530" y="409" width="3" height="63" fill="#2878b6"/>
<rect x="531" y="410" width="1" height="62" fill="#ff0000"/>
<rect x="532" y="409" width="3" height="63" fill="#2878b6"/>
<rect x="533" y="410" width="1" height="62" fill="#ff0000"/>
<rect x="534" y="409" width="3" height="63" fill="#2878b6"/>
<rect x="535" y="410" width="1" height="62" fill="#ff0000"/>
<rect x="537" y="409" width="2" height="63" fill="#2878b6"/>
<rect x="537" y="410" width="2" height="62" fill="#3678b2"/>
<rect x="539" y="409" width="3" height="63" fill="#2878b6"/>
<rect x="540" y="410" width="1" height="62" fill="#ff0000"/>
<rect x="541" y="409" width="3" height="63" fill="#2878b6"/>
<rect x="542" y="410" width="1" height="62" fill="#ff0000"/>
<rect x="543" y="409" width="3" height="63" fill="#2878b6"/>
<rect x="544" y="410" width="1" height="62" fill="#ff0000"/>
<rect x="546" y="372" width="2" height="100" fill="#2878b6"/>
<rect x="546" y="373" width="2" height="99" fill="#3678b2"/>
<rect x="548" y="372" width="3" height="100" fill="#2878b6"/>
<rect x="549" y="373" width="1" height="99" fill="#ff0000"/>
<rect x="550" y="372" width="3" height="100" fill="#2878b6"/>
<rect x="551" y="373" width="1" height="99" fill="#ff0000"/>
<rect x="552" y="372" width="3" height="100" fill="#2878b6"/>
<rect x="553" y="373" width="1" height="99" fill="#ff0000"/>
<rect x="554" y="372" width="3" height="100" fill="#2878b6"/>
<rect x="555" y="373" width="1" height="99" fill="#ff0000"/>
<rect x="557" y="372" width="2" height="100" fill="#2878b6"/>
<rect x="557" y="373" width="2" height="99" fill="#3678b2"/>
<rect x="559" y="372" width="3" height="100" fill="#2878b6"/>
<rect x="560" y="373" width="1" height="99" fill="#ff0000"/>
<rect x="561" y="372" width="3" height="100" fill="#2878b6"/>
<rect x="562" y="373" width="1" height="99" fill="#ff0000"/>
<rect x="563" y="372" width="3" height="100" fill="#2878b6"/>
<rect x="564" y="373" width="1" height="99" fill="#ff0000"/>
<rect x="566" y="372" width="2" height="100" fill="#2878b6"/>
<rect x="566" y="373" width="2" height="99" fill="#3678b2"/>
<rect x="568" y="372" width="3" height="100" fill="#2878b6"/>
<rect x="569" y="373" width="1" height="99" fill="#ff0000"/>
<rect x="570" y="372" width="3" height="100" fill="#2878b6"/>
<rect x="571" y="373" width="1" height="99" fill="#ff0000"/>
<rect x="572" y="372" width="3" height="100" fill="#2878b6"/>
<rect x="573" y="373" width="1" height="99" fill="#ff0000"/>
<rect x="574" y="372" width="3" height="100" fill="#2878b6"/>
<rect x="575" y="373" width="1" height="99" fill="#ff0000"/>
<rect x="577" y="372" width="2" height="100" fill="#2878b6"/>
<rect x="577" y="373" width="2" height="99" fill="#3678b2"/>
<rect x="579" y="372" width="3" height="100" fill="#2878b6"/>
<rect x="580" y="373" width="1" height="99" fill="#ff0000"/>
<rect x="581" y="372" width="3" height="100" fill="#2878b6"/>
<rect x="582" y="373" width="1" height="99" fill="#ff0000"/>
<rect x="583" y="408" width="3" height="64" fill="#2878b6"/>
<rect x="584" y="409" width="1" height="63" fill="#008000"/>
<rect x="586" y="408" width="2" height="64" fill="#2878b6"/>
<rect x="586" y="409" width="2" height="63" fill="#3678b2"/>
<rect x="588" y="408" width="3" height="64" fill="#2878b6"/>
<rect x="589" y="409" width="1" height="63" fill="#008000"/>
<rect x="590" y="408" width="3" height="64" fill="#2878b6"/>
<rect x="591" y="409" width="1" height="63" fill="#008000"/>
<rect x="592" y="408" width="3" height="64" fill="#2878b6"/>
<rect x="593" y="409" width="1" height="63" fill="#008000"/>
<rect x="594" y="408" width="3" height="64" fill="#2878b6"/>
<rect x="595" y="409" width="1" height="63" fill="#008000"/>
<rect x="597" y="408" width="2" height="64" fill="#2878b6"/>
<rect x="597" y="409" width="2" height="63" fill="#3678b2"/>
<rect x="599" y="408" width="3" height="64" fill="#2878b6"/>
<rect x="600" y="409" width="1" height="63" fill="#008000"/>
<rect x="601" y="408" width="3" height="64" fill="#2878b6"/>
<rect x="602" y="409" width="1" height="63" fill="#008000"/>
<rect x="603" y="408" width="3" height="64" fill="#2878b6"/>
<rect x="604" y="409" width="1" height="63" fill="#008000"/>
<rect x="606" y="408" width="2" height="64" fill="#2878b6"/>
<rect x="606" y="409" width="2" height="63" fill="#3678b2"/>
<rect x="608" y="408" width="3" height="64" fill="#2878b6"/>
<rect x="609" y="409" width="1" height="63" fill="#008000"/>
<rect x="610" y="408" width="3" height="64" fill="#2878b6"/>
<rect x="611" y="409" width="1" height="63" fill="#008000"/>
<rect x="612" y="408" width="3" height="64" fill="#2878b6"/>
<rect x="613" y="409" width="1" height="63" fill="#008000"/>
<rect x="614" y="408" width="3" height="64" fill="#2878b6"/>
<rect x="615" y="409" width="1" height="63" fill="#008000"/>
<rect x="617" y="408" width="2" height="64" fill="#2878b6"/>
<rect x="617" y="409" width="2" height="63" fill="#3678b2"/>
<rect x="619" y="407" width="3" height="65" fill="#2878b6"/>
<rect x="620" y="408" width="1" height="64" fill="#008000"/>
<rect x="621" y="407" width="3" height="65" fill="#2878b6"/>
<rect x="622" y="408" width="1" height="64" fill="#008000"/>
<rect x="623" y="407" width="3" height="65" fill="#2878b6"/>
<rect x="624" y="408" width="1" height="64" fill="#008000"/>
<rect x="626" y="407" width="2" height="65" fill="#2878b6"/>
<rect x="626" y="408" width="2" height="64" fill="#3678b2"/>
<rect x="628" y="407" width="3" height="65" fill="#2878b6"/>
<rect x="629" y="408" width="1" height="64" fill="#008000"/>
<rect x="630" y="407" width="3" height="65" fill="#2878b6"/>
<rect x="631" y="408" width="1" height="64" fill="#008000"/>
<rect x="632" y="407" width="3" height="65" fill="#2878b6"/>
<rect x="633" y="408" width="1" height="64" fill="#008000"/>
<rect x="634" y="407" width="3" height="65" fill="#2878b6"/>
<rect x="635" y="408" width="1" height="64" fill="#008000"/>
<rect x="637" y="407" width="2" height="65" fill="#2878b6"/>
<rect x="637" y="408" width="2" height="64" fill="#3678b2"/>
<rect x="639" y="407" width="3" height="65" fill="#2878b6"/>
<rect x="640" y="408" width="1" height="64" fill="#008000"/>
<rect x="641" y="407" width="3" height="65" fill="#2878b6"/>
<rect x="642" y="408" width="1" height="64" fill="#008000"/>
<rect x="643" y="407" width="3" height="65" fill="#2878b6"/>
<rect x="644" y="408" width="1" height="64" fill="#008000"/>
<rect x="646" y="407" width="2" height="65" fill="#2878b6"/>
<rect x="646" y="408" width="2" height="64" fill="#3678b2"/>
<rect x="648" y="407" width="3" height="65" fill="#2878b6"/>
<rect x="649" y="408" width="1" height="64" fill="#008000"/>
<rect x="650" y="407" width="3" height="65" fill="#2878b6"/>
<rect x="651" y="408" width="1" height="64" fill="#008000"/>
<rect x="652" y="433" width="3" height="39" fill="#2878b6"/>
<rect x="653" y="434" width="1" height="38" fill="#ff0000"/>
<rect x="654" y="433" width="3" height="39" fill="#2878b6"/>
<rect x="655" y="434" width="1" height="38" fill="#ff0000"/>
<rect x="657" y="433" width="3" height="39" fill="#2878b6"/>
<rect x="658" y="434" width="1" height="38" fill="#ff0000"/>
<rect x="659" y="433" width="3" height="39" fill="#2878b6"/>
<rect x="660" y="434" width="1" height="38" fill="#ff0000"/>
<rect x="661" y="433" width="3" height="39" fill="#2878b6"/>
<rect x="662" y="434" width="1" height="38" fill="#ff0000"/>
<rect x="663" y="433" width="3" height="39" fill="#2878b6"/>
<rect x="664" y="434" width="1" height="38" fill="#ff0000"/>
<rect x="666" y="433" width="2" height="39" fill="#2878b6"/>
<rect x="666" y="434" width="2" height="38" fill="#3678b2"/>
<rect x="668" y="433" width="3" height="39" fill="#2878b6"/>
<rect x="669" y="434" width="1" height="38" fill="#ff0000"/>
<rect x="670" y="433" width="3" height="39" fill="#2878b6"/>
<rect x="671" y="434" width="1" height="38" fill="#ff0000"/>
<rect x="672" y="433" width="3" height="39" fill="#2878b6"/>
<rect x="673" y="434" width="1" height="38" fill="#ff0000"/>
<rect x="674" y="433" width="3" height="39" fill="#2878b6"/>
<rect x="675" y="434" width="1" height="38" fill="#ff0000"/>
<rect x="677" y="433" width="3" height="39" fill="#2878b6"/>
<rect x="678" y="434" width="1" height="38" fill="#ff0000"/>
<rect x="679" y="433" width="3" height="39" fill="#2878b6"/>
<rect x="680" y="434" width="1" height="38" fill="#ff0000"/>
<rect x="681" y="433" width="3" height="39" fill="#2878b6"/>
<rect x="682" y="434" width="1" height="38" fill="#ff0000"/>
<rect x="683" y="389" width="3" height="83" fill="#2878b6"/>
<rect x="684" y="390" width="1" height="82" fill="#008000"/>
<rect x="686" y="389" width="2" height="83" fill="#2878b6"/>
<rect x="686" y="390" width="2" height="82" fill="#3678b2"/>
<rect x="688" y="389" width="3" height="83" fill="#2878b6"/>
<rect x="689" y="390" width="1" height="82" fill="#008000"/>
<rect x="690" y="389" width="3" height="83" fill="#2878b6"/>
<rect x="691" y="390" width="1" height="82" fill="#008000"/>
<rect x="692" y="389" width="3" height="83" fill="#2878b6"/>
<rect x="693" y="390" width="1" height="82" fill="#008000"/>
<rect x="694" y="389" width="3" height="83" fill="#2878b6"/>
<rect x="695" y="390" width="1" height="82" fill="#008000"/>
<rect x="697" y="389" width="3" height="83" fill="#2878b6"/>
<rect x="698" y="390" width="1" height="82" fill="#008000"/>
<rect x="699" y="389" width="3" height="83" fill="#2878b6"/>
<rect x="700" y="390" width="1" height="82" fill="#008000"/>
<rect x="701" y="389" width="3" height="83" fill="#2878b6"/>
<rect x="702" y="390" width="1" height="82" fill="#008000"/>
<rect x="703" y="389" width="3" height="83" fill="#2878b6"/>
<rect x="704" y="390" width="1" height="82" fill="#008000"/>
<rect x="706" y="389" width="2" height="83" fill="#2878b6"/>
<rect x="706" y="390" width="2" height="82" fill="#3678b2"/>
<rect x="708" y="389" width="3" height="83" fill="#2878b6"/>
<rect x="709" y="390" width="1" height="82" fill="#008000"/>
<rect x="710" y="389" width="3" height="83" fill="#2878b6"/>
<rect x="711" y="390" width="1" height="82" fill="#008000"/>
<rect x="712" y="410" width="3" height="62" fill="#2878b6"/>
<rect x="713" y="411" width="1" height="61" fill="#008000"/>
<rect x="714" y="410" width="3" height="62" fill="#2878b6"/>
<rect x="715" y="411" width="1" height="61" fill="#008000"/>
<rect x="717" y="410" width="3" height="62" fill="#2878b6"/>
<rect x="718" y="411" width="1" height="61" fill="#008000"/>
<rect x="719" y="410" width="3" height="62" fill="#2878b6"/>
<rect x="720" y="411" width="1" height="61" fill="#008000"/>
<rect x="721" y="410" width="3" height="62" fill="#2878b6"/>
<rect x="722" y="411" width="1" height="61" fill="#008000"/>
<rect x="723" y="410" width="3" height="62" fill="#2878b6"/>
<rect x="724" y="411" width="1" height="61" fill="#008000"/>
<rect x="726" y="410" width="2" height="62" fill="#2878b6"/>
<rect x="726" y="411" width="2" height="61" fill="#3678b2"/>
<rect x="728" y="410" width="3" height="62" fill="#2878b6"/>
<rect x="729" y="411" width="1" height="61" fill="#008000"/>
<rect x="730" y="410" width="3" height="62" fill="#2878b6"/>
<rect x="731" y="411" width="1" height="61" fill="#008000"/>
<rect x="732" y="410" width="3" height="62" fill="#2878b6"/>
<rect x="733" y="411" width="1" height="61" fill="#008000"/>
<rect x="734" y="410" width="3" height="62" fill="#2878b6"/>
<rect x="735" y="411" width="1" height="61" fill="#008000"/>
<rect x="737" y="410" width="3" height="62" fill="#2878b6"/>
<rect x="738" y="411" width="1" height="61" fill="#008000"/>
<rect x="739" y="432" width="3" height="40" fill="#2878b6"/>
<rect x="740" y="433" width="1" height="39" fill="#ff0000"/>
<rect x="741" y="432" width="3" height="40" fill="#2878b6"/>
<rect x="742" y="433" width="1" height="39" fill="#ff0000"/>
<rect x="743" y="432" width="3" height="40" fill="#2878b6"/>
<rect x="744" y="433" width="1" height="39" fill="#ff0000"/>
<rect x="746" y="432" width="2" height="40" fill="#2878b6"/>
<rect x="746" y="433" width="2" height="39" fill="#3678b2"/>
<rect x="748" y="432" width="3" height="40" fill="#2878b6"/>
<rect x="749" y="433" width="1" height="39" fill="#ff0000"/>
<rect x="750" y="432" width="3" height="40" fill="#2878b6"/>
<rect x="751" y="433" width="1" height="39" fill="#ff0000"/>
<rect x="752" y="432" width="3" height="40" fill="#2878b6"/>
<rect x="753" y="433" width="1" height="39" fill="#ff0000"/>
<rect x="754" y="432" width="3" height="40" fill="#2878b6"/>
<rect x="755" y="433" width="1" height="39" fill="#ff0000"/>
<rect x="757" y="432" width="3" height="40" fill="#2878b6"/>
<rect x="758" y="433" width="1" height="39" fill="#ff0000"/>
<rect x="759" y="432" width="3" height="40" fill="#2878b6"/>
<rect x="760" y="433" width="1" height="39" fill="#ff0000"/>
<rect x="761" y="432" width="3" height="40" fill="#2878b6"/>
<rect x="762" y="433" width="1" height="39" fill="#ff0000"/>
<rect x="763" y="379" width="3" height="93" fill="#2878b6"/>
<rect x="764" y="380" width="1" height="92" fill="#ff0000"/>
<rect x="766" y="379" width="2" height="93" fill="#2878b6"/>
<rect x="766" y="380" width="2" height="92" fill="#3678b2"/>
<rect x="768" y="379" width="3" height="93" fill="#2878b6"/>
<rect x="769" y="380" width="1" height="92" fill="#ff0000"/>
<rect x="770" y="379" width="3" height="93" fill="#2878b6"/>
<rect x="771" y="380" width="1" height="92" fill="#ff0000"/>
<rect x="772" y="379" width="3" height="93" fill="#2878b6"/>
<rect x="773" y="380" width="1" height="92" fill="#ff0000"/>
<rect x="774" y="379" width="3" height="93" fill="#2878b6"/>
<rect x="775" y="380" width="1" height="92" fill="#ff0000"/>
<rect x="777" y="379" width="3" height="93" fill="#2878b6"/>
<rect x="778" y="380" width="1" height="92" fill="#ff0000"/>
<rect x="779" y="379" width="3" height="93" fill="#2878b6"/>
<rect x="780" y="380" width="1" height="92" fill="#ff0000"/>
<rect x="781" y="379" width="3" height="93" fill="#2878b6"/>
<rect x="782" y="380" width="1" height="92" fill="#ff0000"/>
<rect x="783" y="379" width="3" height="93" fill="#2878b6"/>
<rect x="784" y="380" width="1" height="92" fill="#ff0000"/>
<rect x="786" y="419" width="2" height="53" fill="#2878b6"/>
<rect x="786" y="420" width="2" height="52" fill="#3678b2"/>
<rect x="788" y="419" width="3" height="53" fill="#2878b6"/>
<rect x="789" y="420" width="1" height="52" fill="#ff0000"/>
<rect x="790" y="419" width="3" height="53" fill="#2878b6"/>
<rect x="791" y="420" width="1" height="52" fill="#ff0000"/>
<rect x="792" y="419" width="3" height="53" fill="#2878b6"/>
<rect x="793" y="420" width="1" height="52" fill="#ff0000"/>
<rect x="794" y="419" width="3" height="53" fill="#2878b6"/>
<rect x="795" y="420" width="1" height="52" fill="#ff0000"/>
<rect x="797" y="419" width="3" height="53" fill="#2878b6"/>
<rect x="798" y="420" width="1" height="52" fill="#ff0000"/>
<rect x="799" y="419" width="3" height="53" fill="#2878b6"/>
<rect x="800" y="420" width="1" height="52" fill="#ff0000"/>
<rect x="801" y="419" width="3" height="53" fill="#2878b6"/>
<rect x="802" y="420" width="1" height="52" fill="#ff0000"/>
<rect x="803" y="419" width="3" height="53" fill="#2878b6"/>
<rect x="804" y="420" width="1" height="52" fill="#ff0000"/>
<rect x="806" y="438" width="2" height="34" fill="#2878b6"/>
<rect x="806" y="439" width="2" height="33" fill="#3678b2"/>
<rect x="808" y="438" width="3" height="34" fill="#2878b6"/>
<rect x="809" y="439" width="1" height="33" fill="#ff0000"/>
<rect x="810" y="438" width="3" height="34" fill="#2878b6"/>
<rect x="811" y="439" width="1" height="33" fill="#ff0000"/>
<rect x="812" y="438" width="3" height="34" fill="#2878b6"/>
<rect x="813" y="439" width="1" height="33" fill="#ff0000"/>
<rect x="815" y="438" width="2" height="34" fill="#2878b6"/>
<rect x="815" y="439" width="2" height="33" fill="#3678b2"/>
<rect x="817" y="438" width="3" height="34" fill="#2878b6"/>
<rect x="818" y="439" width="1" height="33" fill="#ff0000"/>
<rect x="819" y="438" width="3" height="34" fill="#2878b6"/>
<rect x="820" y="439" width="1" height="33" fill="#ff0000"/>
<rect x="821" y="438" width="3" height="34" fill="#2878b6"/>
<rect x="822" y="439" width="1" height="33" fill="#ff0000"/>
<rect x="823" y="427" width="3" height="45" fill="#2878b6"/>
<rect x="824" y="428" width="1" height="44" fill="#ff0000"/>
<rect x="826" y="427" width="2" height="45" fill="#2878b6"/>
<rect x="826" y="428" width="2" height="44" fill="#3678b2"/>
<rect x="828" y="427" width="3" height="45" fill="#2878b6"/>
<rect x="829" y="428" width="1" height="44" fill="#ff0000"/>
<rect x="830" y="427" width="3" height="45" fill="#2878b6"/>
<rect x="831" y="428" width="1" height="44" fill="#ff0000"/>
<rect x="832" y="427" width="3" height="45" fill="#2878b6"/>
<rect x="833" y="428" width="1" height="44" fill="#ff0000"/>
<rect x="835" y="427" width="2" height="45" fill="#2878b6"/>
<rect x="835" y="428" width="2" height="44" fill="#3678b2"/>
<rect x="837" y="427" width="3" height="45" fill="#2878b6"/>
<rect x="838" y="428" width="1" height="44" fill="#ff0000"/>
<rect x="839" y="430" width="3" height="42" fill="#2878b6"/>
<rect x="840" y="431" width="1" height="41" fill="#008000"/>
<rect x="841" y="430" width="3" height="42" fill="#2878b6"/>
<rect x="842" y="431" width="1" height="41" fill="#008000"/>
<rect x="843" y="430" width="3" height="42" fill="#2878b6"/>
<rect x="844" y="431" width="1" height="41" fill="#008000"/>
<rect x="846" y="430" width="2" height="42" fill="#2878b6"/>
<rect x="846" y="431" width="2" height="41" fill="#3678b2"/>
<rect x="848" y="430" width="3" height="42" fill="#2878b6"/>
<rect x="849" y="431" width="1" height="41" fill="#008000"/>
<rect x="850" y="430" width="3" height="42" fill="#2878b6"/>
<rect x="851" y="431" width="1" height="41" fill="#008000"/>
<rect x="852" y="441" width="3" height="31" fill="#2878b6"/>
<rect x="853" y="442" width="1" height="30" fill="#ff0000"/>
<rect x="855" y="441" width="2" height="31" fill="#2878b6"/>
<rect x="855" y="442" width="2" height="30" fill="#3678b2"/>
<rect x="857" y="441" width="3" height="31" fill="#2878b6"/>
<rect x="858" y="442" width="1" height="30" fill="#ff0000"/>
<rect x="859" y="441" width="3" height="31" fill="#2878b6"/>
<rect x="860" y="442" width="1" height="30" fill="#ff0000"/>
<rect x="861" y="441" width="3" height="31" fill="#2878b6"/>
<rect x="862" y="442" width="1" height="30" fill="#ff0000"/>
<rect x="863" y="431" width="3" height="41" fill="#2878b6"/>
<rect x="864" y="432" width="1" height="40" fill="#ff0000"/>
<rect x="866" y="431" width="2" height="41" fill="#2878b6"/>
<rect x="866" y="432" width="2" height="40" fill="#3678b2"/>
<rect x="868" y="431" width="3" height="41" fill="#2878b6"/>
<rect x="869" y="432" width="1" height="40" fill="#ff0000"/>
<rect x="870" y="431" width="3" height="41" fill="#2878b6"/>
<rect x="871" y="432" width="1" height="40" fill="#ff0000"/>
<rect x="872" y="455" width="3" height="17" fill="#2878b6"/>
<rect x="873" y="456" width="1" height="16" fill="#ff0000"/>
<rect x="875" y="455" width="2" height="17" fill="#2878b6"/>
<rect x="875" y="456" width="2" height="16" fill="#3678b2"/>
<rect x="877" y="455" width="3" height="17" fill="#2878b6"/>
<rect x="878" y="456" width="1" height="16" fill="#ff0000"/>
<rect x="879" y="460" width="3" height="12" fill="#2878b6"/>
<rect x="880" y="461" width="1" height="11" fill="#008000"/>
<rect x="881" y="460" width="3" height="12" fill="#2878b6"/>
<rect x="882" y="461" width="1" height="11" fill="#008000"/>
<rect x="883" y="456" width="3" height="16" fill="#2878b6"/>
<rect x="884" y="457" width="1" height="15" fill="#ff0000"/>
<g stroke="#000" stroke-width="1.1" fill="none" stroke-linecap="square">
<path d="M184.5 69.5H920.5V472.5H184.5z"/>
<path d="M184.5 357.5H920.5"/>
</g>
<g stroke="#000" stroke-width="1.1" fill="none">
<path d="M179.1 326.5H184.5"/>
<path d="M179.1 280.5H184.5"/>
<path d="M179.1 233.5H184.5"/>
<path d="M179.1 187.5H184.5"/>
<path d="M179.1 140.5H184.5"/>
<path d="M179.1 94.5H184.5"/>
<path d="M179.1 369.5H184.5"/>
<path d="M179.1 423.5H184.5"/>
<path d="M220.5 472.5V477.9"/>
<path d="M331.5 472.5V477.9"/>
<path d="M442.5 472.5V477.9"/>
<path d="M553.5 472.5V477.9"/>
<path d="M664.5 472.5V477.9"/>
<path d="M775.5 472.5V477.9"/>
<path d="M887.5 472.5V477.9"/>
</g>
<g font-family="Liberation Sans, sans-serif" fill="#000" opacity="0.999">
<text x="248.4" y="15.6" font-size="17" textLength="34.7" lengthAdjust="spacingAndGlyphs">MES</text>
<text x="288.7" y="15.6" font-size="17" textLength="82.9" lengthAdjust="spacingAndGlyphs">12-Minute</text>
<text x="377.2" y="15.6" font-size="17" textLength="44.2" lengthAdjust="spacingAndGlyphs">Chart</text>
<text x="428.4" y="15.6" font-size="17" textLength="101.4" lengthAdjust="spacingAndGlyphs">(2025-10-15</text>
<text x="536.8" y="15.6" font-size="17" textLength="115.7" lengthAdjust="spacingAndGlyphs">09:00~10:00)</text>
<text x="658.7" y="15.6" font-size="17" textLength="6.7" lengthAdjust="spacingAndGlyphs">-</text>
<text x="669.7" y="15.6" font-size="17" textLength="26.7" lengthAdjust="spacingAndGlyphs">MA</text>
<text x="701.2" y="15.6" font-size="17" textLength="18.2" lengthAdjust="spacingAndGlyphs">on</text>
<text x="725.8" y="15.6" font-size="17" textLength="49.2" lengthAdjust="spacingAndGlyphs">HLC/3</text>
<text x="174.2" y="331.6" font-size="14" text-anchor="end" textLength="35.3" lengthAdjust="spacingAndGlyphs">6688</text>
<text x="174.2" y="285.6" font-size="14" text-anchor="end" textLength="35.3" lengthAdjust="spacingAndGlyphs">6690</text>
<text x="174.2" y="238.6" font-size="14" text-anchor="end" textLength="35.3" lengthAdjust="spacingAndGlyphs">6692</text>
<text x="174.2" y="192.6" font-size="14" text-anchor="end" textLength="35.3" lengthAdjust="spacingAndGlyphs">6694</text>
<text x="174.2" y="145.6" font-size="14" text-anchor="end" textLength="35.3" lengthAdjust="spacingAndGlyphs">6696</text>
<text x="174.2" y="99.6" font-size="14" text-anchor="end" textLength="35.3" lengthAdjust="spacingAndGlyphs">6698</text>
<text x="174.2" y="374.7" font-size="14" text-anchor="end" textLength="33.8" lengthAdjust="spacingAndGlyphs">1000</text>
<text x="174.2" y="428.7" font-size="14" text-anchor="end" textLength="25.8" lengthAdjust="spacingAndGlyphs">500</text>
<text transform="translate(131 214.5) rotate(-90)" font-size="14" text-anchor="middle" textLength="33.5" lengthAdjust="spacingAndGlyphs">Price</text>
<text transform="translate(130.6 415.5) rotate(-90)" font-size="14" text-anchor="middle" textLength="51.5" lengthAdjust="spacingAndGlyphs">Volume</text>
<text transform="translate(218.2 500.8) rotate(-45)" font-size="14" text-anchor="middle" dy="5" textLength="38.5" lengthAdjust="spacingAndGlyphs">19:48</text>
<text transform="translate(329.2 500.8) rotate(-45)" font-size="14" text-anchor="middle" dy="5" textLength="38.5" lengthAdjust="spacingAndGlyphs">19:54</text>
<text transform="translate(440.2 500.8) rotate(-45)" font-size="14" text-anchor="middle" dy="5" textLength="38.5" lengthAdjust="spacingAndGlyphs">20:00</text>
<text transform="translate(551.2 500.8) rotate(-45)" font-size="14" text-anchor="middle" dy="5" textLength="38.5" lengthAdjust="spacingAndGlyphs">20:09</text>
<text transform="translate(662.2 500.8) rotate(-45)" font-size="14" text-anchor="middle" dy="5" textLength="38.5" lengthAdjust="spacingAndGlyphs">20:18</text>
<text transform="translate(773.2 500.8) rotate(-45)" font-size="14" text-anchor="middle" dy="5" textLength="38.5" lengthAdjust="spacingAndGlyphs">20:30</text>
</g>
</svg>
</body></html>
